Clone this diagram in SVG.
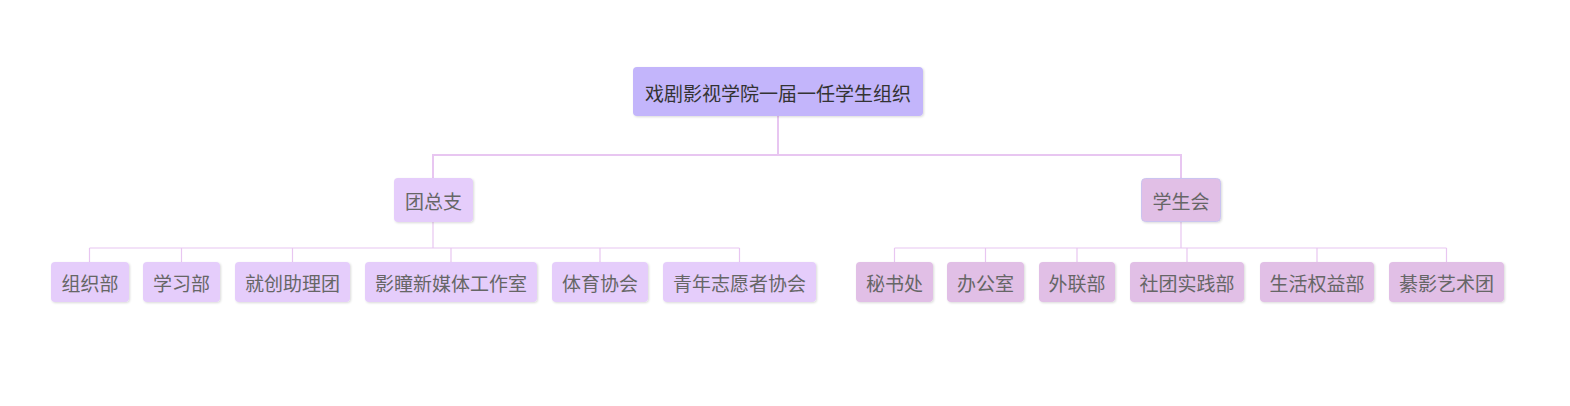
<svg xmlns="http://www.w3.org/2000/svg" width="1570" height="406" viewBox="0 0 1570 406">
<defs>
<filter id="sh" x="-10%" y="-10%" width="120%" height="130%">
<feDropShadow dx="1" dy="1" stdDeviation="0.8" flood-color="#000" flood-opacity="0.15"/>
</filter>
<style>
.n rect{filter:url(#sh);}
.root rect{fill:#c3b5fb;}
.l1a rect{fill:#e5cdfb;}
.l1b rect{fill:#e1bfe6;stroke:#cbc3f0;stroke-width:1;}
.ca rect{fill:#e5cdfb;}
.cb rect{fill:#e1bfe6;}
text{font-family:"Noto Sans CJK SC","Noto Sans",sans-serif;font-size:19px;text-anchor:middle;dominant-baseline:central;fill:#666;}
.root text{fill:#333;font-size:19px;}
.e1{stroke:#e8c6f1;stroke-width:2;fill:none;}
.e2{stroke:#e8c6f1;stroke-width:1.2;fill:none;}
</style>
</defs>
<rect width="1570" height="406" fill="#fff"/>
<g id="connectors">
<path class="e1" d="M778 116V155M433 155H1181M433 154V178M1181 154V178"/>
<path class="e2" d="M433 222V248M89.5 248H739.5M89.5 248V262M181.5 248V262M292.5 248V262M451 248V262M600 248V262M739.5 248V262"/>
<path class="e2" d="M1181 222V248M894.5 248H1446.5M894.5 248V262M985.5 248V262M1077 248V262M1187 248V262M1317 248V262M1446.5 248V262"/>
</g>
<g id="root" class="n root"><rect x="633" y="67" width="290" height="49" rx="4"/><text x="778" y="92">戏剧影视学院一届一任学生组织</text></g>
<g id="tuanzongzhi" class="n l1a"><rect x="394" y="178" width="79" height="44" rx="4"/><text x="433.5" y="200">团总支</text></g>
<g id="xueshenghui" class="n l1b"><rect x="1141.5" y="178.5" width="79" height="43" rx="4"/><text x="1181" y="200">学生会</text></g>
<g id="zuzhibu" class="n ca"><rect x="51" y="262" width="78" height="40" rx="4"/><text x="90" y="282">组织部</text></g>
<g id="xuexibu" class="n ca"><rect x="143" y="262" width="77" height="40" rx="4"/><text x="181.5" y="282">学习部</text></g>
<g id="jiuchuang" class="n ca"><rect x="235" y="262" width="115" height="40" rx="4"/><text x="292.5" y="282">就创助理团</text></g>
<g id="yingtong" class="n ca"><rect x="365" y="262" width="172" height="40" rx="4"/><text x="451" y="282">影瞳新媒体工作室</text></g>
<g id="tiyu" class="n ca"><rect x="552" y="262" width="96" height="40" rx="4"/><text x="600" y="282">体育协会</text></g>
<g id="zhiyuanzhe" class="n ca"><rect x="663" y="262" width="153" height="40" rx="4"/><text x="739.5" y="282">青年志愿者协会</text></g>
<g id="mishuchu" class="n cb"><rect x="856" y="262" width="77" height="40" rx="4"/><text x="894.5" y="282">秘书处</text></g>
<g id="bangongshi" class="n cb"><rect x="947" y="262" width="77" height="40" rx="4"/><text x="985.5" y="282">办公室</text></g>
<g id="wailianbu" class="n cb"><rect x="1039" y="262" width="76" height="40" rx="4"/><text x="1077" y="282">外联部</text></g>
<g id="shetuan" class="n cb"><rect x="1130" y="262" width="114" height="40" rx="4"/><text x="1187" y="282">社团实践部</text></g>
<g id="shenghuo" class="n cb"><rect x="1260" y="262" width="114" height="40" rx="4"/><text x="1317" y="282">生活权益部</text></g>
<g id="qiying" class="n cb"><rect x="1389" y="262" width="115" height="40" rx="4"/><text x="1446.5" y="282">綦影艺术团</text></g>
</svg>
